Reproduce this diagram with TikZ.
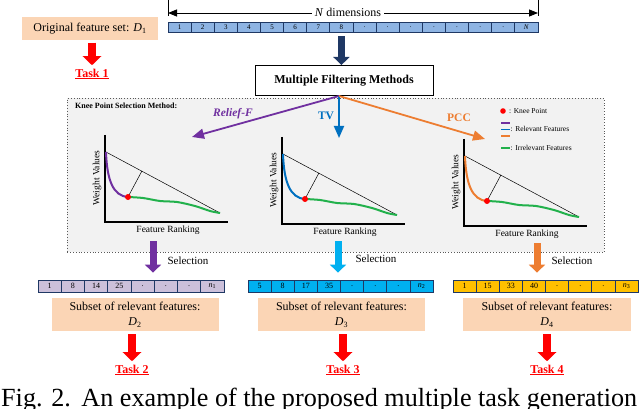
\documentclass[tikz,border=0pt]{standalone}
\usepackage{fontspec}
\setmainfont{Liberation Serif}
\usetikzlibrary{arrows.meta,calc}
\definecolor{peach}{HTML}{FBD5B5}
\definecolor{topblue}{HTML}{8EB4E3}
\definecolor{navy}{HTML}{1F3864}
\definecolor{purp}{HTML}{7030A0}
\definecolor{tvblue}{HTML}{0070C0}
\definecolor{pccorange}{HTML}{ED7D31}
\definecolor{cyanb}{HTML}{00B0F0}
\definecolor{gold}{HTML}{FFC000}
\definecolor{lpurp}{HTML}{CCC0DA}
\definecolor{grn}{HTML}{22B14C}
\definecolor{boxgray}{HTML}{F2F2F2}
\tikzset{
  cellnode/.style={draw=navy, line width=0.8pt, minimum width=23.1pt, minimum height=10pt, inner sep=0pt, font=\fontsize{7}{7}\selectfont},
  bcell/.style={draw=navy, line width=0.8pt, minimum width=23.2pt, minimum height=12pt, inner sep=0pt, font=\fontsize{8}{8}\selectfont},
  peachbox/.style={fill=peach, inner sep=0pt, align=center},
  taskstyle/.style={text=red, font=\bfseries\fontsize{12}{12}\selectfont},
  redarr/.style={draw=red, line width=8pt, -{Triangle[width=18pt,length=9pt]}},
  blockarr/.style={draw=#1, line width=7pt, -{Triangle[width=16pt,length=8pt]}},
  fanarr/.style={draw=#1, line width=1.8pt, -{Triangle[width=10pt,length=12pt]}},
  axisline/.style={line width=1.3pt, black},
  thinline/.style={line width=0.5pt, black},
  curve/.style={line width=2pt},
  smalltxt/.style={font=\fontsize{9.5}{9.5}\selectfont, inner sep=0pt},
  legtxt/.style={font=\fontsize{7.5}{7.5}\selectfont, inner sep=0pt, anchor=west},
}
\newcommand{\kneechart}[4]{%
\begin{scope}[shift={(#1,#2)}]
  \draw[axisline] (0,-87) -- (0,0) -- (123,0);
  \coordinate (S#4) at (1,-70);
  \coordinate (K#4) at (23,-25);
  \coordinate (E#4) at (115,-9);
  \draw[thinline] (S#4) -- (E#4);
  \draw[thinline] (K#4) -- ($(S#4)!(K#4)!(E#4)$);
  \draw[#3, curve] (S#4) .. controls (2,-42) and (8,-26) .. (K#4);
  \draw[grn, curve] plot[smooth] coordinates {(23,-25) (38,-24) (55,-21) (72,-20) (90,-16) (105,-11) (115,-9)};
  \fill[red] (K#4) circle (3pt);
  \node[smalltxt, rotate=90] (wv#4) at (-8,-44) {Weight Values};
  \node[smalltxt] (fr#4) at (63,8) {Feature Ranking};
\end{scope}}
\begin{document}
\begin{tikzpicture}[x=1pt,y=-1pt]
\useasboundingbox (0,0) rectangle (640,409);
\clip (0,0) rectangle (640,409);
\fill[white] (0,0) rectangle (640,409);

% original feature set
\node[peachbox, minimum width=136pt, minimum height=23pt, font=\fontsize{12}{12}\selectfont] (orig) at (90,29) {Original feature set: \textit{D}\textsubscript{1}};
\node[taskstyle] (task1) at (92,74) {\underline{Task 1}};
\draw[redarr] (orig.south -| task1) ++(0,2) coordinate (o1) -- (task1.north);

% top bar
\foreach \t [count=\i] in {1,2,3,4,5,6,7,8,.,.,.,.,.,.,.,\textit{N}}
  \node[cellnode, fill=topblue] (t\i) at ({168+(\i-0.5)*23.125},27) {\t};
\draw[line width=0.6pt] (168,0) -- (168,16);
\draw[line width=0.6pt] (538,0) -- (538,16);
\coordinate (dl) at (168,13);
\coordinate (dr) at (538,13);
\node[font=\fontsize{12}{12}\selectfont, inner sep=3pt] (ndim) at (348,12) {\textit{N} dimensions};
\draw[line width=0.8pt, -{Triangle[width=7pt,length=9pt]}] (ndim.west |- dl) -- (dl);
\draw[line width=0.8pt, -{Triangle[width=7pt,length=9pt]}] (ndim.east |- dr) -- (dr);

% multiple filtering methods
\node[draw, line width=1pt, minimum width=178pt, minimum height=30pt, font=\bfseries\fontsize{12}{12}\selectfont, inner sep=0pt] (mfm) at (344,80.5) {Multiple Filtering Methods};
\draw[blockarr=navy] ([yshift=-4pt]t8.south) -- (mfm.north -| t8);

% knee box
\node[draw=gray!70!black, dotted, line width=0.8pt, fill=boxgray, minimum width=537pt, minimum height=154pt, anchor=north west, inner sep=0pt] (kbox) at (67,98) {};
\node[font=\bfseries\fontsize{8}{8}\selectfont, anchor=west, inner sep=0pt] (kpsm) at (75,106) {Knee Point Selection Method:};

% fan arrows
\coordinate (fan) at (339,96);
\coordinate (endrf) at (192,137);
\coordinate (endtv) at (339,138);
\coordinate (endpcc) at (485,139);
\draw[fanarr=purp] (fan) -- (endrf);
\draw[fanarr=tvblue] (fan) -- (endtv);
\draw[fanarr=pccorange] (fan) -- (endpcc);
\node[text=purp, font=\bfseries\itshape\fontsize{11.5}{11.5}\selectfont] (rf) at (233,114) {Relief-F};
\node[text=tvblue, font=\bfseries\fontsize{11.5}{11.5}\selectfont] (tv) at (326,116) {TV};
\node[text=pccorange, font=\bfseries\fontsize{11.5}{11.5}\selectfont] (pcc) at (459,118) {PCC};

% legend
\fill[red] (503,111) circle (2.8pt);
\node[legtxt] (lg1) at (509,111) {: Knee Point};
\draw[purp, line width=1.6pt] (501,123) -- (510,123);
\draw[tvblue, line width=1.6pt] (501,129.5) -- (510,129.5);
\draw[pccorange, line width=1.6pt] (501,136) -- (510,136);
\node[legtxt] (lg2) at (510.5,129) {: Relevant Features};
\draw[grn, line width=1.6pt] (501,148) -- (510,148);
\node[legtxt] (lg3) at (510.5,148) {: Irrelevant Features};

% charts
\kneechart{105}{222}{purp}{a}
\kneechart{282}{224}{tvblue}{b}
\kneechart{464}{226}{pccorange}{c}

% bottom bars
\foreach \t [count=\i] in {1,8,14,25,.,.,.,\textit{n}\textsubscript{1}}
  \node[bcell, fill=lpurp] (p\i) at ({38+(\i-0.5)*23.25},286) {\t};
\foreach \t [count=\i] in {5,8,17,35,.,.,.,\textit{n}\textsubscript{2}}
  \node[bcell, fill=cyanb] (b\i) at ({248+(\i-0.5)*23.15},286) {\t};
\foreach \t [count=\i] in {1,15,33,40,.,.,.,\textit{n}\textsubscript{3}}
  \node[bcell, fill=gold] (o\i) at ({453+(\i-0.5)*23.15},286) {\t};

% selection arrows
\coordinate (sa) at (153,241);
\coordinate (sb) at (338,241);
\coordinate (sc) at (537,243);
\draw[blockarr=purp, shorten >=7pt] (sa) -- (sa |- p1.north);
\draw[blockarr=cyanb, shorten >=7pt] (sb) -- (sb |- b1.north);
\draw[blockarr=pccorange, shorten >=7pt] (sc) -- (sc |- o1.north);
\node[font=\fontsize{11}{11}\selectfont] (sel1) at (188,260.5) {Selection};
\node[font=\fontsize{11}{11}\selectfont] (sel2) at (376,259) {Selection};
\node[font=\fontsize{11}{11}\selectfont] (sel3) at (572,261) {Selection};

% subset boxes
\node[peachbox, minimum width=167pt, minimum height=33pt, font=\fontsize{12}{15}\selectfont] (d2) at (135,314.5) {Subset of relevant features:\\\textit{D}\textsubscript{2}};
\node[peachbox, minimum width=167pt, minimum height=33pt, font=\fontsize{12}{15}\selectfont] (d3) at (341.5,314.5) {Subset of relevant features:\\\textit{D}\textsubscript{3}};
\node[peachbox, minimum width=168pt, minimum height=33pt, font=\fontsize{12}{15}\selectfont] (d4) at (547,314.5) {Subset of relevant features:\\\textit{D}\textsubscript{4}};

\node[taskstyle] (task2) at (132,370) {\underline{Task 2}};
\node[taskstyle] (task3) at (343,370) {\underline{Task 3}};
\node[taskstyle] (task4) at (547,370) {\underline{Task 4}};
\draw[redarr] ([yshift=-3pt]d2.south -| task2) -- (task2.north);
\draw[redarr] ([yshift=-3pt]d3.south -| task3) -- (task3.north);
\draw[redarr] ([yshift=-3pt]d4.south -| task4) -- (task4.north);

% caption
\node[anchor=base west, inner sep=0pt, font=\fontsize{28}{28}\selectfont] (cap) at (1,406) {\resizebox{636pt}{!}{\fontsize{28}{28}\selectfont Fig. 2.\hspace{0.4em}An example of the proposed multiple task generation}};
\end{tikzpicture}
\end{document}
